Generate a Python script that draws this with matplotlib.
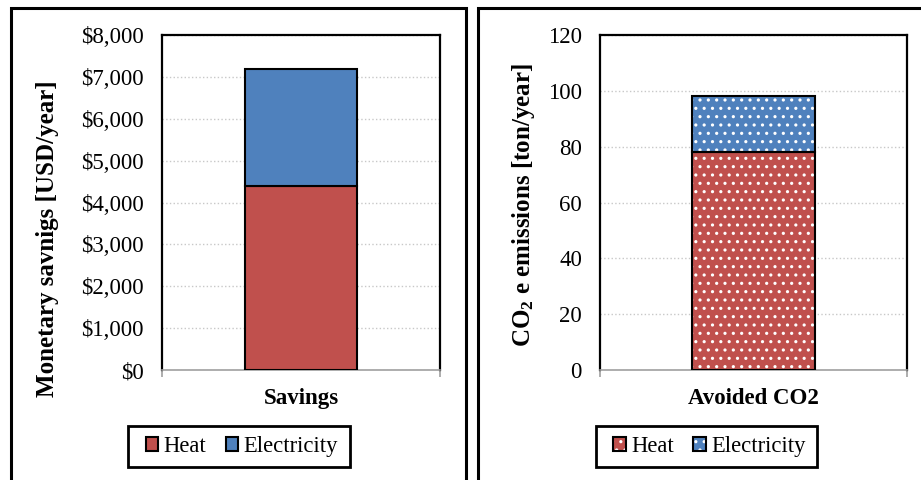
import matplotlib.pyplot as plt
from matplotlib.patches import Rectangle, Patch
from matplotlib.ticker import FuncFormatter

plt.rcParams['font.family'] = ['Liberation Serif', 'DejaVu Serif']
plt.rcParams['mathtext.fontset'] = 'custom'
plt.rcParams['mathtext.rm'] = 'Liberation Serif:bold'
plt.rcParams['mathtext.default'] = 'rm'
plt.rcParams['hatch.linewidth'] = 1.1

series = ["Heat", "Electricity"]
colors = ["#C0504D", "#4F81BD"]

savings_cat = ["Savings"]
savings_vals = [4400, 2800]

co2_cat = ["Avoided CO2"]
co2_vals = [78, 20]

W, H = 921, 480
fig = plt.figure(figsize=(W / 100, H / 100), dpi=100)

# panel frames
fig.add_artist(Rectangle((11 / W, -0.1), (466 - 11) / W, (H - 8) / H + 0.1,
                         transform=fig.transFigure, fill=False, lw=2.2, ec="black"))
fig.add_artist(Rectangle((478 / W, -0.1), (W + 10 - 478) / W, (H - 8) / H + 0.1,
                         transform=fig.transFigure, fill=False, lw=2.2, ec="black"))


def make_panel(rect, cat, vals, ymax, step, ylabel, fmt, hatched, lab_x, lab_y, leg_box):
    ax = fig.add_axes([rect[0] / W, 1 - rect[3] / H, (rect[2] - rect[0]) / W,
                       (rect[3] - rect[1]) / H])
    bottom = 0
    for name, v, c in zip(series, vals, colors):
        if hatched:
            ax.bar(cat, [v], bottom=bottom, width=0.4, color=c, hatch="..",
                   edgecolor="white", linewidth=0, zorder=2)
            ax.bar(cat, [v], bottom=bottom, width=0.4, fill=False,
                   edgecolor="black", linewidth=1.5, zorder=3)
        else:
            ax.bar(cat, [v], bottom=bottom, width=0.4, color=c,
                   edgecolor="black", linewidth=1.5, zorder=3)
        bottom += v
    ax.set_xlim(-0.5, 0.5)
    ax.set_ylim(0, ymax)
    ax.set_yticks(range(0, ymax + 1, step))
    ax.yaxis.set_major_formatter(FuncFormatter(fmt))
    ax.grid(axis="y", color="#C8C8C8", linestyle=":", linewidth=1, zorder=0)
    ax.tick_params(axis="y", length=0, labelsize=16.5, pad=13)
    ax.set_xticks([0])
    ax.set_xticklabels(cat, fontweight="bold")
    ax.tick_params(axis="x", which="major", length=0, labelsize=16.5, pad=13)
    ax.set_xticks([-0.5, 0.5], minor=True)
    ax.tick_params(axis="x", which="minor", length=5, color="#A0A0A0", width=1.2)
    for s in ["left", "top", "right"]:
        ax.spines[s].set_linewidth(1.6)
        ax.spines[s].set_color("black")
    ax.spines["bottom"].set_color("#A0A0A0")
    ax.spines["bottom"].set_linewidth(1.2)
    ax.set_ylabel(ylabel, fontsize=18, fontweight="bold")
    ax.yaxis.set_label_coords(lab_x, lab_y)

    handles = []
    for name, c in zip(series, colors):
        if hatched:
            handles.append((Patch(facecolor=c, edgecolor="white", hatch="..", lw=0),
                            Patch(fill=False, edgecolor="black", lw=1.5)))
        else:
            handles.append(Patch(facecolor=c, edgecolor="black", lw=1.5))
    x0, y0, x1, y1 = leg_box
    fig.add_artist(Rectangle((x0 / W, 1 - y1 / H), (x1 - x0) / W, (y1 - y0) / H,
                             transform=fig.transFigure, fill=False, lw=2, ec="black"))
    fig.legend(handles=handles, labels=series, loc="center",
               bbox_to_anchor=((x0 + x1) / 2 / W + 3 / W, 1 - (y0 + y1) / 2 / H), ncol=2,
               fontsize=16.3, frameon=False,
               handlelength=0.55, handleheight=0.55, handletextpad=0.25,
               columnspacing=0.85, borderpad=0.3)
    return ax


make_panel((162, 35, 440, 370), savings_cat, savings_vals, 8000, 1000,
           "Monetary savnigs [USD/year]", lambda v, p: "${:,.0f}".format(v), False,
           -0.37, 0.391, (128, 426, 350, 467))
make_panel((600, 35, 907, 370), co2_cat, co2_vals, 120, 20,
           r"CO$_2$ e emissions [ton/year]", lambda v, p: "{:.0f}".format(v), True,
           -0.205, 0.494, (596, 426, 817, 467))

fig.savefig("out.png", dpi=100)
